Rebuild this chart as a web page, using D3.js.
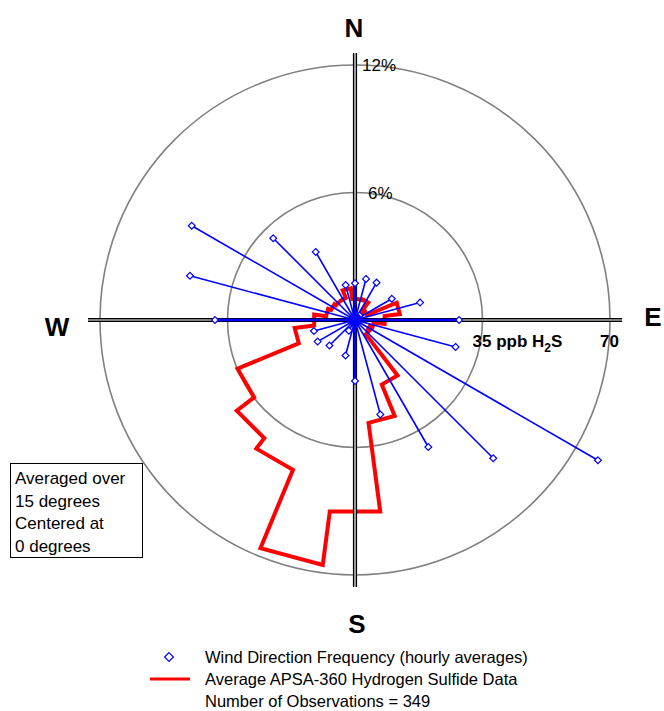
<!DOCTYPE html>
<html>
<head>
<meta charset="utf-8">
<script src="https://cdn.jsdelivr.net/npm/d3@7"></script>
<style>
  body { margin: 0; background: #fff; }
  text { font-family: "Liberation Sans", Arial, sans-serif; }
</style>
</head>
<body>
<div id="rose"></div>
<script>
// wind directions (degrees, centre of each 15 degree sector)
var directions = [0, 15, 30, 45, 60, 75, 90, 105, 120, 135, 150, 165,
                  180, 195, 210, 225, 240, 255, 270, 285, 300, 315, 330, 345];
// wind direction frequency, % of hours
var frequency = [1.73, 2.0, 2.03, 0.3, 2.0, 3.17, 4.9, 4.9, 13.2, 9.2, 6.9, 4.6,
                 2.87, 1.73, 0.58, 1.7, 2.03, 2.0, 6.59, 8.04, 8.87, 5.44, 3.7, 1.7];
// average H2S, ppb
var h2s = [5.8, 5.8, 6.0, 3.0, 3.6, 12.4, 8.2, 5.2, 4.4, 4.9, 19.2, 28.5,
           53.0, 67.8, 44.5, 40.9, 34.9, 16.7, 11.3, 8.0, 7.1, 6.6, 6.6, 8.8];
var freqTicks = [6, 12];
var h2sTicks = [35, 70];
var compass = ["N", "E", "S", "W"];
var boxLines = ["Averaged over", "15 degrees", "Centered at", "0 degrees"];
var legendLines = ["Wind Direction Frequency (hourly averages)",
                   "Average APSA-360 Hydrogen Sulfide Data",
                   "Number of Observations = 349"];

var width = 664, height = 711;
var cx = 355, cy = 320;
var outerR = 255;
var sector = 15;

var rFreq = d3.scaleLinear().domain([0, 12]).range([0, outerR]);
var rH2s = d3.scaleLinear().domain([0, 70]).range([0, outerR]);
var rad = function(deg) { return deg * Math.PI / 180; };

var svg = d3.select("#rose")
            .append("svg")
            .attr("width", width)
            .attr("height", height);

var g = svg.append("g").attr("transform", "translate(" + cx + "," + cy + ")");

// range rings
g.selectAll("circle.ring")
  .data(freqTicks)
  .enter()
  .append("circle")
  .attr("class", "ring")
  .attr("r", function(d) { return rFreq(d); })
  .style("fill", "none")
  .style("stroke", "#808080")
  .style("stroke-width", 1.6);

// red H2S polygon: flat chord across each sector, radial steps between
var h2sPts = [];
directions.forEach(function(d, i) {
  h2sPts.push([rad(d - sector / 2), rH2s(h2s[i])]);
  h2sPts.push([rad(d + sector / 2), rH2s(h2s[i])]);
});
var radial = d3.lineRadial()
               .angle(function(d) { return d[0]; })
               .radius(function(d) { return d[1]; })
               .curve(d3.curveLinearClosed);
g.append("path")
  .attr("d", radial(h2sPts))
  .style("fill", "none")
  .style("stroke", "#ff0000")
  .style("stroke-width", 4)
  .style("stroke-linejoin", "miter");

// compass axes, drawn as a double line
var axLen = 267;
var axes = [[0, -axLen, 0, axLen], [-axLen, 0, axLen, 0]];
g.selectAll("line.axOut")
  .data(axes)
  .enter()
  .append("line")
  .attr("x1", function(d) { return d[0]; })
  .attr("y1", function(d) { return d[1]; })
  .attr("x2", function(d) { return d[2]; })
  .attr("y2", function(d) { return d[3]; })
  .style("stroke", "#000")
  .style("stroke-width", 4.2);
g.selectAll("line.axIn")
  .data(axes)
  .enter()
  .append("line")
  .attr("x1", function(d) { return d[0]; })
  .attr("y1", function(d) { return d[1]; })
  .attr("x2", function(d) { return d[2]; })
  .attr("y2", function(d) { return d[3]; })
  .style("stroke", "#fff")
  .style("stroke-width", 1.2);

// blue frequency spokes
var spokes = directions.map(function(d, i) {
  return d3.pointRadial(rad(d), rFreq(frequency[i]));
});
g.selectAll("line.spoke")
  .data(spokes)
  .enter()
  .append("line")
  .attr("class", "spoke")
  .attr("x1", 0).attr("y1", 0)
  .attr("x2", function(d) { return d[0]; })
  .attr("y2", function(d) { return d[1]; })
  .style("stroke", "#0000ff")
  .style("stroke-width", function(d, i) { return directions[i] % 90 == 0 ? 2.6 : 1.6; });

var diamond = d3.symbol().type(d3.symbolDiamond2).size(30);
g.selectAll("path.mark")
  .data(spokes)
  .enter()
  .append("path")
  .attr("class", "mark")
  .attr("d", diamond)
  .attr("transform", function(d) { return "translate(" + d[0] + "," + d[1] + ")"; })
  .style("fill", "#fff")
  .style("stroke", "#0000ff")
  .style("stroke-width", 1.2);

g.append("circle").attr("r", 7).style("fill", "#0000ff");

// ring labels
g.selectAll("text.freqLab")
  .data(freqTicks)
  .enter()
  .append("text")
  .attr("x", function(d) { return d == 12 ? 7 : 13; })
  .attr("y", function(d) { return -rFreq(d) + 6; })
  .style("font-size", "17px")
  .text(function(d) { return d + "%"; });

var h2sLab = g.selectAll("text.h2sLab")
  .data(h2sTicks)
  .enter()
  .append("text")
  .attr("x", function(d) { return rH2s(d) - 10; })
  .attr("y", 27)
  .style("font-size", "17px")
  .style("font-weight", "bold");
h2sLab.append("tspan").text(function(d) { return d; });
h2sLab.filter(function(d) { return d == 35; }).each(function() {
  var t = d3.select(this);
  t.append("tspan").text(" ppb H");
  t.append("tspan").attr("dy", 5).style("font-size", "12px").text("2");
  t.append("tspan").attr("dy", -5).text("S");
});

// compass letters
var compassPos = { N: [-1, -290], E: [298, -1], S: [2, 306], W: [-298, 9] };
g.selectAll("text.compass")
  .data(compass)
  .enter()
  .append("text")
  .attr("x", function(d) { return compassPos[d][0]; })
  .attr("y", function(d) { return compassPos[d][1]; })
  .attr("text-anchor", "middle")
  .attr("dominant-baseline", "middle")
  .style("font-size", "26px")
  .style("font-weight", "bold")
  .text(function(d) { return d; });

// note box
svg.append("rect")
  .attr("x", 10.5).attr("y", 463.5)
  .attr("width", 132).attr("height", 94)
  .style("fill", "#fff")
  .style("stroke", "#000")
  .style("stroke-width", 1);
svg.selectAll("text.box")
  .data(boxLines)
  .enter()
  .append("text")
  .attr("x", 15)
  .attr("y", function(d, i) { return 484 + i * 22.5; })
  .style("font-size", "17px")
  .text(function(d) { return d; });

// legend
svg.append("path")
  .attr("d", d3.symbol().type(d3.symbolDiamond2).size(50))
  .attr("transform", "translate(169,657)")
  .style("fill", "none")
  .style("stroke", "#0000ff")
  .style("stroke-width", 1.2);
svg.append("line")
  .attr("x1", 150).attr("x2", 190)
  .attr("y1", 679).attr("y2", 679)
  .style("stroke", "#ff0000")
  .style("stroke-width", 3);
svg.selectAll("text.legend")
  .data(legendLines)
  .enter()
  .append("text")
  .attr("x", 205)
  .attr("y", function(d, i) { return 663 + i * 22; })
  .style("font-size", "16.5px")
  .text(function(d) { return d; });
</script>
</body>
</html>
